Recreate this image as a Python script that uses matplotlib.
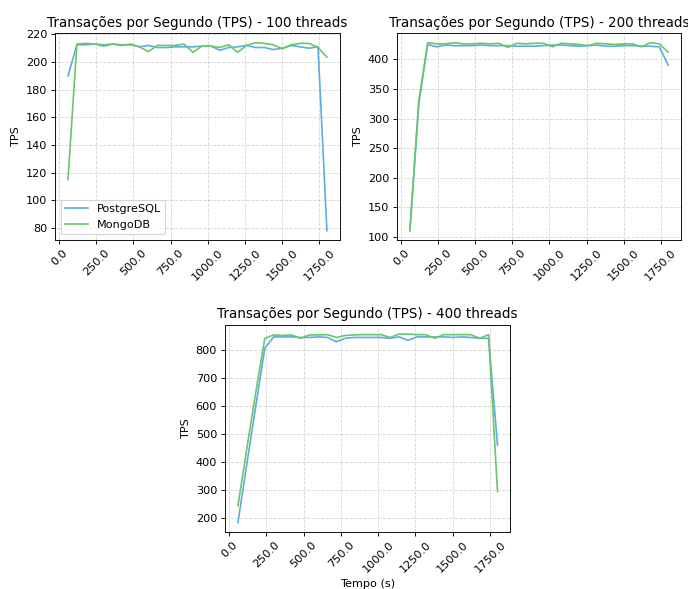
import matplotlib
matplotlib.use("Agg")
import matplotlib.pyplot as plt
import numpy as np

tempo = [60.0, 120.0, 180.0, 240.0, 300.0, 360.0, 420.0, 480.0, 540.0, 600.0,
         660.0, 720.0, 780.0, 840.0, 900.0, 960.0, 1020.0, 1080.0, 1140.0, 1200.0,
         1260.0, 1320.0, 1380.0, 1440.0, 1500.0, 1560.0, 1620.0, 1680.0, 1740.0, 1800.0]

pg_100 = [190, 212.5, 212.5, 213, 211.5, 213, 212.5, 212.5, 211, 212,
          210.5, 210.5, 211, 211, 211, 211.5, 211.5, 208.5, 210.5, 211,
          212, 210.5, 210.5, 209, 210, 212, 211, 210, 211, 78]
mongo_100 = [115, 213, 213.5, 213, 212.5, 213, 212, 213, 211, 207.5,
             212, 212, 212, 213, 207, 211.5, 211.5, 210.5, 212.5, 207,
             212, 214, 213.5, 212.5, 209.5, 212.5, 213.5, 213.5, 210.5, 203.5]

pg_200 = [111, 325, 425, 421, 424, 423, 423, 423, 424, 423,
          423, 423, 422, 422, 422, 423, 424, 424, 423, 422,
          423, 424, 422, 422, 423, 423, 422, 422, 421, 390]
mongo_200 = [111, 330, 428, 426, 426, 428, 426, 426, 427, 426,
             427, 420, 427, 426, 427, 427, 421, 427, 426, 425,
             423, 427, 426, 425, 426, 426, 421, 428, 426, 412]

pg_400 = [185, 395, 600, 805, 845, 845, 845, 843, 843, 845,
          843, 828, 840, 843, 843, 843, 843, 840, 845, 833,
          845, 845, 845, 845, 843, 845, 843, 840, 840, 460]
mongo_400 = [245, 450, 650, 840, 852, 850, 852, 840, 852, 852,
             853, 843, 850, 852, 853, 853, 853, 843, 855, 855,
             853, 853, 840, 853, 853, 853, 853, 840, 853, 295]

threads = [100, 200, 400]
series_pg = [pg_100, pg_200, pg_400]
series_mongo = [mongo_100, mongo_200, mongo_400]

c_pg = '#5DADE2'
c_mongo = '#6CC66C'

fig = plt.figure(figsize=(688 / 81, 589 / 81), dpi=81)
axes = [fig.add_axes([0.080, 0.5925, 0.414, 0.351]),
        fig.add_axes([0.577, 0.5925, 0.413, 0.351]),
        fig.add_axes([0.327, 0.0968, 0.415, 0.352])]

xticks = [0.0, 250.0, 500.0, 750.0, 1000.0, 1250.0, 1500.0, 1750.0]
for i, ax in enumerate(axes):
    ax.plot(tempo, series_pg[i], color=c_pg, label='PostgreSQL')
    ax.plot(tempo, series_mongo[i], color=c_mongo, label='MongoDB')
    ax.set_title(f'Transações por Segundo (TPS) - {threads[i]} threads')
    ax.set_ylabel('TPS')
    ax.set_xticks(xticks)
    ax.set_xticklabels([f'{t:.1f}' for t in xticks], rotation=45)
    ax.grid(True, linestyle='--', alpha=0.5)

axes[0].legend(loc='lower left')
axes[2].set_xlabel('Tempo (s)')

fig.savefig('out.png', dpi=81)
